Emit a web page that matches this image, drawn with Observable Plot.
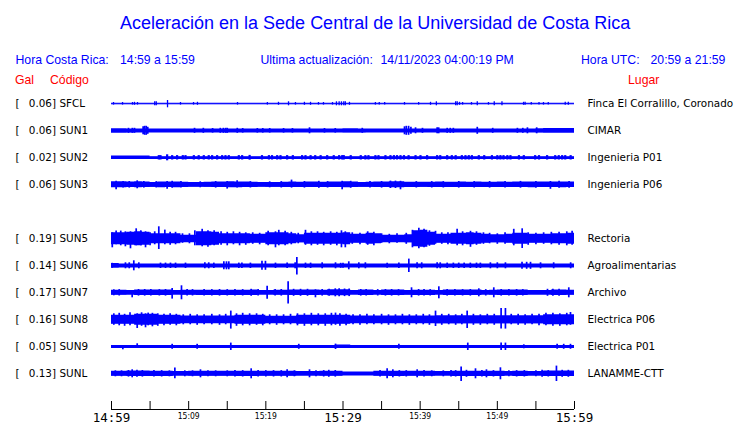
<!DOCTYPE html>
<html><head><meta charset="utf-8">
<script src="https://cdn.jsdelivr.net/npm/d3@7"></script>
<script src="https://cdn.jsdelivr.net/npm/@observablehq/plot@0.6"></script>
<style>
body{margin:0;background:#fff;width:740px;height:423px;overflow:hidden;}
#hdr{position:relative;width:740px;height:88px;font-family:"Liberation Sans",Arial,sans-serif;}
#hdr div{position:absolute;white-space:pre;line-height:1;}
.t{left:120px;top:13.7px;font-size:18px;color:#0000ff}
.h{top:53.7px;font-size:12.25px;color:#0000ff}
.r{top:74px;font-size:12.25px;color:#ff0000}
#chart svg{display:block;overflow:visible}
</style></head>
<body>
<div id="hdr">
  <div class="t">Aceleración en la Sede Central de la Universidad de Costa Rica</div>
  <div class="h" style="left:15.5px">Hora Costa Rica:</div>
  <div class="h" style="left:120px">14:59 a 15:59</div>
  <div class="h" style="left:260.5px">Ultima actualización:</div>
  <div class="h" style="left:380.5px">14/11/2023 04:00:19 PM</div>
  <div class="h" style="left:581px">Hora UTC:</div>
  <div class="h" style="left:650.5px">20:59 a 21:59</div>
  <div class="r" style="left:15px">Gal</div>
  <div class="r" style="left:50px">Código</div>
  <div class="r" style="left:628px">Lugar</div>
</div>
<div id="chart"></div>
<script>
// ---- data ----
const stations = ["SFCL","SUN1","SUN2","SUN3","SUN5","SUN6","SUN7","SUN8","SUN9","SUNL"];
const maxGal = ["0.06","0.06","0.02","0.06","0.19","0.14","0.17","0.16","0.05","0.13"];
const places = ["Finca El Corralillo, Coronado","CIMAR","Ingenieria P01","Ingenieria P06","Rectoria","Agroalimentarias","Archivo","Electrica P06","Electrica P01","LANAMME-CTT"];
const rowIndex = [0,1,2,3,5,6,7,8,9,10];
const coreAmp = [0.5,1.7,1.1,2.0,3.5,1.7,1.7,3.5,1.3,1.7];
const tickMinutes = [0,5,10,15,20,25,30,35,40,45,50,55,60];
const labelMinutes = [0,10,20,30,40,50,60];
const tickLabels = ["14:59","15:09","15:19","15:29","15:39","15:49","15:59"];
const bigLabel = [true,false,false,true,false,false,true];

// envelope (half amplitude) per minute, minutes 0..59 after 14:59
const envSFCL = Array(60).fill(0.5);
const envSUN1 = [2.1,2.1,1.9,1.7,1.7,1.7,1.7,1.7,1.7,1.7, 1.7,1.7,1.7,1.7,1.7,1.7,1.7,1.7,1.7,1.7, 1.7,1.7,1.7,1.7,1.7,1.7,1.7,1.7,1.7,1.8, 2.0,2.0,1.9,1.7,1.7,1.7,1.7,1.7,1.7,1.7, 1.7,1.7,1.7,1.7,1.7,1.7,1.7,1.7,1.7,1.7, 1.7,1.7,1.7,1.7,1.7,2.0,2.2,2.2,2.2,2.2];
const envSUN2 = [1.8,1.8,1.8,1.8,1.8,1.1,1.1,1.1,1.1,1.1, 1.1,1.1,1.1,1.1,1.1,1.1,1.1,1.1,1.1,1.1, 1.1,1.1,1.1,1.1,1.1,1.1,1.1,1.1,1.1,1.1, 1.1,1.1,1.1,1.1,1.1,1.1,1.1,1.1,1.1,1.1, 1.1,1.1,1.1,1.1,1.1,1.1,1.1,1.1,1.1,1.1, 1.1,1.1,1.1,1.1,1.1,1.1,1.1,1.1,1.1,1.1];
const envSUN3 = [3.0,3.0,2.8,3.0,2.8,2.4,2.9,2.8,2.9,2.6, 2.3,2.3,2.5,2.8,2.8,3.0,2.9,2.7,2.6,2.3, 2.4,2.4,2.6,2.7,2.6,2.7,2.8,2.6,2.7,2.8, 3.0,2.8,2.4,2.5,2.7,2.8,3.0,3.0,2.6,2.6, 2.5,2.6,2.7,2.6,2.6,2.7,2.6,2.7,2.6,2.6, 2.7,2.6,2.7,2.8,2.9,2.8,2.7,2.8,2.9,2.8];
const envSUN5 = [6,6,6.5,7,6.5,5,5,5,5,3.5, 3.5,7,7,6.5,5,5,5,5,4.5,4.5, 6,6,6,5,4,5.5,5.5,5.5,5.5,5.5, 6,4.5,4.5,5.5,5,3.5,3.5,3.5,4,8, 8.5,6.5,4.5,4.5,5.5,5.5,6,5.5,4.5,4, 4,4.5,5.5,5.5,4.5,4.5,4.5,5,5,5.5];
const envSUN6 = [2.2,1.7,1.7,1.7,1.7,1.7,1.7,1.7,1.7,1.7, 1.7,1.7,1.7,1.7,1.7,1.7,1.7,1.7,1.7,1.7, 1.7,1.7,1.7,1.7,1.7,1.7,1.7,1.7,1.7,1.7, 1.7,1.7,1.7,1.7,1.7,1.7,1.7,1.7,1.7,1.7, 1.7,1.7,1.7,1.7,1.7,1.7,1.7,1.7,1.7,1.7, 1.7,1.7,1.7,1.7,1.7,1.7,1.7,1.7,1.7,1.7];
const envSUN7 = [2.5,2.5,2.2,2.8,2.8,2.8,2.8,2.8,2.2,2.5, 2.5,2.6,2.6,2.6,2.6,2.6,2.6,2.6,2.8,2.2, 2.2,2.5,2.5,2.8,2.8,2.8,2.8,2.5,3.0,3.0, 3.0,2.2,2.7,2.7,2.2,2.7,2.7,2.7,2.4,2.6, 2.6,2.6,2.2,2.7,2.7,2.7,2.7,2.8,2.3,2.5, 2.7,2.7,2.7,2.7,2.2,2.2,2.2,2.8,2.8,2.5];
const envSUN8 = [4.5,4.5,4.5,5.5,5.5,5.5,4.5,4.5,4.5,3.8, 3.8,3.8,3.8,3.8,3.8,3.8,4.5,4.5,4.5,4.5, 3.5,3.5,3.5,3.5,4.5,4.5,4.5,4.5,4.5,4.5, 4.5,3.7,3.7,3.7,3.7,3.7,3.7,3.7,3.7,3.7, 3.7,3.7,4,4,4,4,4,4,4,4, 4,4,4,4,4,4,5,5,5,5];
const envSUN9 = [1.3,1.3,1.3,1.3,1.3,1.3,1.3,1.3,1.3,1.3, 1.3,1.3,1.3,1.3,1.3,1.3,1.3,1.3,1.3,1.3, 1.3,1.3,1.3,1.3,1.3,1.3,1.3,1.3,1.3,1.7, 1.7,1.3,1.3,1.3,1.3,1.3,1.3,1.3,1.3,1.3, 1.3,1.3,1.3,1.3,1.3,1.3,1.3,1.3,1.3,1.3, 1.3,1.3,1.3,1.3,1.3,1.3,1.3,1.3,1.3,1.3];
const envSUNL = [2.5,2.5,2.8,2.8,2.8,2.6,2.6,2.6,2.3,2.3, 2.5,2.5,2.5,2.5,2.5,2.5,2.6,2.6,2.6,2.5, 2.5,2.5,2.5,2.5,2.3,2.3,2.3,2.5,2.5,2.5, 1.8,1.8,1.8,1.8,2.5,2.5,2.6,2.6,2.5,2.5, 2.5,2.5,2.2,2.2,2.6,2.6,2.6,2.6,2.6,2.6, 2.6,2.2,2.6,2.6,2.3,2.3,2.8,2.8,2.8,2.8];

// spikes: [minute, up, down]
const spkSFCL = [[0.26,1.3],[1.43,1.3],[2.72,1.3],[2.98,1.5],[3.37,1.3],[5.6,2],[5.8,2],[7.26,3.3,4],[8.94,1.3],[10.63,1.3],[11.14,1.5],[16.33,1.3],[20.2,1.3],[21.64,1.5],[22.94,2],[23.84,1.3],[25.0,1.5],[25.79,1.5],[26.82,1.3],[27.47,1.3],[28.64,1.3],[29.15,2],[29.5,2],[29.8,2],[30.1,2],[30.3,2],[30.84,1.5],[34.2,1.3],[34.7,1.3],[35.4,1.3],[37.97,1.3],[39.8,1.3],[41.34,1.5],[42.1,2],[44.6,2],[44.8,2],[45.1,1.5],[45.5,1.3],[46.65,1.3],[47.4,2],[48.85,1.3],[49.6,2],[50.6,2],[53.4,1.5],[53.6,1.5],[54.4,1.3],[55.4,1.3],[55.98,1.3],[56.6,1.3],[58.8,1.5],[59.2,1.5]];
const spkSUN1 = [[2.2,2.5],[2.7,2.5],[2.98,2.5],[4.1,4],[4.3,4.5],[4.5,4.5],[4.7,3.5],[10.76,2.5],[11.9,2.5],[13.1,2.3],[14.1,2.5],[14.5,2.5],[14.8,2.5],[15.0,2.5],[16.3,2.5],[17.0,2.3],[18.9,2.3],[19.6,2.3],[20.5,2.3],[22.3,2.3],[23.45,2.3],[25.66,3],[27.6,2.3],[29.0,2.3],[32.5,2.5],[37.97,4],[38.2,4.5],[38.5,4.5],[38.8,3.5],[39.4,3],[40.3,2.5],[42.2,3],[42.4,3],[43.5,2.5],[43.9,2.5],[44.3,2.5],[47.4,3.5],[49.4,2.5],[52.6,2.5],[53.3,2.5],[53.9,3],[55.1,3]];
const spkSUN2 = [[6.13,2.2],[6.35,2.2],[7.21,3],[7.86,2.2],[8.5,2.2],[9.24,2.2],[9.59,2.2],[10.67,2.2],[11.3,2.2],[11.96,2.2],[12.6,2.2],[13.04,2.2],[13.69,2.2],[14.34,2.2],[14.77,2.2],[15.2,2.2],[16.5,2.2],[16.93,2.2],[17.9,2.4],[19.5,2.2],[20.4,2.2],[20.8,2.2],[21.47,2.2],[21.9,2.2],[22.76,2.2],[23.5,2.2],[24.7,2.2],[25.14,2.2],[25.8,2.2],[26.4,2.2],[27.1,2.2],[27.95,2.2],[28.8,2.2],[29.5,2.2],[29.9,2.2],[30.1,2.2],[31.0,2.2],[32.3,2.2],[32.9,2.2],[33.3,2.2],[34.2,2.2],[34.6,2.2],[35.5,2.2],[36.15,2.2],[36.6,2.2],[37.0,2.2],[37.45,2.2],[37.9,2.2],[38.5,2.2],[39.4,2.2],[40.04,2.2],[40.9,2.2],[42.2,2.2],[42.6,2.2],[43.5,2.2],[44.1,2.2],[44.6,2.2],[45.4,2.2],[45.87,2.2],[46.3,2.2],[46.7,2.2],[47.6,2.2],[48.3,2.2],[49.3,2.2],[50.0,2.2],[50.4,2.2],[50.8,2.2],[51.3,2.2],[51.7,2.2],[52.8,2.2],[53.43,2.2],[54.9,2.2],[55.4,2.2],[56.45,2.2],[57.5,2.2],[57.96,2.2],[58.4,2.2],[58.8,2.2],[59.5,2.2]];
const spkSUN3 = [[0.6,3.5,5],[1.5,3.3],[2.3,3.3],[3.33,4,4],[4.19,3.3],[5.8,3.2],[7.21,3.3,4.5],[7.86,3.5],[9.0,3.2],[11.5,3],[13.5,3.3],[14.99,3.3,4.3],[16.28,4,3.3],[18.0,3.2],[20.5,3],[22.0,3.2],[23.33,4.7,3.3],[25.0,3.3],[26.87,3.5],[28.0,3.2],[29.89,3.5,5],[31.0,3.5],[33.5,3.2],[35.0,3.3],[36.15,3.7],[36.8,3.7],[37.45,3.5,5],[39.5,3.2],[41.5,3.2],[43.0,3.2],[45.0,3.3],[47.0,3.2],[49.0,3.3],[51.0,3.2],[53.0,3.4],[55.0,3.4],[56.88,3.3,4.5],[58.0,3.5],[59.3,3.4]];
const spkSUN5 = [[0.1,6,9],[0.6,7.7,6],[1.2,7.7,7],[1.8,7,8],[2.46,7,10],[3.2,10,7],[3.8,8,7],[4.41,7,9],[5.0,6,7],[5.6,7,6],[6.13,12,10.7],[6.91,8.7,6],[7.6,6.5,6.5],[8.3,6.5,6],[9.2,5,4.5],[10.1,5,5],[10.8,8,7],[11.75,9.5,8],[12.5,8,8.5],[13.3,8,7],[14.2,7,6.5],[15.0,6.5,7],[15.8,7,6],[16.6,6.5,7],[17.4,6,6.5],[18.3,6,5.5],[19.2,5.5,6],[20.3,7.5,7],[21.25,7,9],[21.68,8.5,7],[22.5,7.5,7],[23.3,6.5,6],[24.2,5.5,5],[25.14,8.5,6.5],[25.9,7,7],[26.7,7,6.5],[27.5,6.5,7],[28.4,7,6.5],[29.2,6.5,7],[29.8,8,9],[30.3,7,9],[31.2,6,5.5],[32.2,5.5,6],[33.2,7,6.5],[34.0,6.5,7],[35.0,5,4.5],[36.0,4.5,5],[37.0,5,4.5],[38.2,5.5,5.5],[39.0,8.5,9],[39.83,10.5,10],[40.5,9.5,9],[41.2,8,7.5],[41.99,7.5,5.5],[42.8,6,5.5],[43.6,6,6],[44.79,9.5,7],[45.5,7,7],[46.52,7.5,8.5],[47.3,7,6.5],[48.2,6,5.5],[49.0,5.5,5],[50.0,5,5.5],[51.0,6,5.5],[52.13,9.5,7],[53.22,10,9.7],[54.0,6,6.5],[55.0,5.5,6],[56.0,6,5.5],[57.0,6.5,6],[58.0,6.5,6.5],[59.0,7,7],[59.69,7.5,6.5]];
const spkSUN6 = [[0.1,2.5],[1.81,3],[2.3,3],[2.89,5,5],[3.54,3],[6.35,2.7],[7.0,2.7],[7.64,2.7],[8.3,2.7],[9.59,2.7],[12.1,3],[12.6,3],[13.26,2.7],[14.56,4],[14.9,4],[15.2,4],[16.5,2.7],[16.9,2.7],[18.0,2.7],[19.5,4.5],[19.95,4.5],[21.25,2.7],[22.76,2.7],[23.8,3],[24.02,8.3,9.3],[25.14,2.7],[25.8,2.7],[27.3,3],[29.03,3],[29.7,2.5],[30.0,2.5],[30.75,4,4],[32.05,3],[32.9,3],[35.72,2.5],[37.24,2.7],[38.53,6.7,6.7],[39.6,3],[40.2,3],[42.2,3],[42.6,3],[43.5,2.7],[44.3,2.7],[45.0,2.7],[45.7,2.7],[46.5,2.7],[47.3,2.7],[47.8,2.7],[49.1,3],[50.0,3],[51.05,3],[53.2,3.5],[53.8,3.5],[54.3,3.5],[55.6,3],[57.3,3],[59.5,3]];
const spkSUN7 = [[0.3,3],[1.0,3.2],[2.68,2,5],[3.5,3.3],[4.3,3.3],[5.1,3.3],[6.2,3.2],[7.0,3.3],[7.86,4.3,6.3],[9.07,7,7],[9.8,3.2],[10.5,3.2],[12.0,3.3],[13.0,3.2],[14.0,3.3],[15.0,3.2],[16.0,3.3],[17.0,3.2],[18.1,3.5],[19.0,3.3],[20.17,6.5,6.5],[21.2,3.2],[22.0,3.3],[22.89,11,11.3],[23.6,3.5],[24.5,3.5],[25.4,3.5],[26.43,3,5],[27.3,3.3],[28.2,3.5],[29.0,4],[29.5,4],[30.2,3.8],[30.8,3.8],[32.3,3.3],[33.0,3.3],[34.5,3.2],[35.5,3.3],[36.3,3.3],[37.2,3.2],[38.88,5,5],[39.8,3.3],[40.5,3.2],[41.3,3.2],[42.42,6,6],[43.5,3.3],[44.5,3.3],[45.5,3.2],[46.5,3.3],[47.6,4,4],[48.5,3.2],[49.54,5,5],[50.5,3.3],[51.5,3.3],[52.5,3.3],[53.3,3.2],[56.5,3.5],[57.2,3.5],[58.0,3.5],[59.26,5,5]];
const spkSUN8 = [[0.3,6,5.5],[1.0,6.5,6],[1.7,5.5,6.5],[2.4,7,6],[3.33,6,8.7],[3.9,7,6.5],[4.41,6,8],[4.75,6.7,6],[5.3,6.5,7],[6.0,6,6.5],[6.8,5.5,6],[7.6,6,5.5],[8.4,5.5,6],[9.3,5,5],[10.2,5.5,5],[11.1,5,5.5],[12.0,5,5],[13.0,5.5,5],[14.0,5,5.5],[14.8,5.5,5],[15.46,8.7,9.3],[16.2,6,6.5],[17.0,6.5,6],[17.9,6,6],[18.8,6,5.5],[19.6,5.5,6],[20.5,5,5],[21.4,5,5.5],[22.3,5,5],[23.2,5.5,5],[24.1,6,6],[25.0,6,6.5],[25.9,6.5,6],[26.8,6,6],[27.7,6,6.5],[28.5,6.5,6],[29.03,6.7,5.5],[29.6,6,6.5],[30.4,5.5,6],[31.3,5,5],[32.2,5,5.5],[33.1,5.5,5],[34.0,5,5],[35.0,5.5,5],[35.9,5,5.5],[36.8,5,5],[37.7,5.5,5],[38.6,5,5.5],[39.5,5,5],[40.4,5.5,5],[41.2,5,5.5],[41.99,8.7,6.7],[42.8,5.5,5.5],[43.7,5.5,5],[44.6,5,5.5],[45.4,5.5,5],[46.09,8.7,8.7],[46.9,5.5,5.5],[47.8,5,5.5],[48.7,5.5,5],[49.6,5.5,5.5],[50.49,11.3,9.3],[51.05,11.3,9.3],[51.8,5.5,5],[52.7,5.5,5.5],[53.6,5,5.5],[54.5,5.5,5],[55.4,5.5,6],[56.3,6.5,6],[57.2,6.5,6.5],[58.1,6,6.5],[59.0,6.5,6],[59.48,7.3,5.5]];
const spkSUN9 = [[1.47,1.3,3],[3.33,3,1.3],[7.86,2.5],[11.1,2.5],[15.46,3.7,3.7],[24.27,2.5],[29.03,2.7],[37.24,2.5],[46.17,3.7],[50.49,3.7],[51.05,3.7],[53.43,2],[57.75,2.5],[58.6,2.5],[59.48,2.5]];
const spkSUNL = [[0.5,3],[1.3,3],[2.2,3.3],[2.68,4,4],[3.3,3.5],[4.0,3.3],[5.5,3.2],[6.5,3.2],[7.5,3],[8.21,5.7,5],[9.5,3],[10.5,3],[11.53,4,4],[12.5,3],[13.5,3],[15.0,3],[16.0,3.2],[17.0,3.2],[18.1,5,5],[19.0,3.2],[20.0,3.2],[21.0,3.2],[22.0,3.2],[22.76,4,4],[23.7,3],[25.66,4,4],[26.5,3],[27.5,3.2],[28.16,3.5],[29.0,3.3],[34.8,3.2],[35.72,5,5],[36.46,4,4],[37.3,3.2],[38.2,3.2],[39.61,4,4],[40.5,3.2],[41.5,3],[43.0,3],[44.0,3.2],[44.6,3.2],[45.31,6.7,7.7],[46.0,3.5],[47.17,5,5],[48.0,3.2],[48.59,4,4],[49.5,3.2],[50.4,6,6],[51.5,3],[52.5,3.2],[53.5,3.2],[55.0,3],[55.8,3.5],[56.6,3.2],[57.66,7.7,7.7],[58.4,3.5],[59.2,3.5]];

const envs = [envSFCL,envSUN1,envSUN2,envSUN3,envSUN5,envSUN6,envSUN7,envSUN8,envSUN9,envSUNL];
const spikes = [spkSFCL,spkSUN1,spkSUN2,spkSUN3,spkSUN5,spkSUN6,spkSUN7,spkSUN8,spkSUN9,spkSUNL];

// ---- layout ----
const W = 740, H = 335, ROW = 27, TOP = 15.3;
const py = px => (px - TOP) / ROW;   // svg pixel -> row units (layout helper)
const BLUE = "#0000ff";
const marks = [];
stations.forEach((s, i) => {
  const r = rowIndex[i];
  const env = envs[i];
  const pts = env.map((v, m) => ({m, v}));
  pts.push({m: 60, v: env[env.length - 1]});
  marks.push(Plot.ruleY([r], {x1: () => 0, x2: () => 60, stroke: BLUE, strokeWidth: 2 * coreAmp[i]}));
  marks.push(Plot.areaY(pts, {x: "m", y1: d => r - d.v / ROW, y2: d => r + d.v / ROW, curve: "step-after", fill: BLUE}));
  marks.push(Plot.ruleX(spikes[i], {x: d => d[0], y1: d => r - d[1] / ROW, y2: d => r + (d[2] ?? d[1]) / ROW, stroke: BLUE, strokeWidth: i === 0 ? 1.3 : (i === 2 ? 2.2 : 1.7)}));
});
const lab = stations.map((s, i) => ({s, g: maxGal[i], p: places[i], r: rowIndex[i]}));
const tf = "DejaVu Sans, sans-serif";
const fs = 10.4;
marks.push(Plot.text(lab, {frameAnchor: "left", y: "r", text: () => "[", dx: -96, textAnchor: "start", fontSize: fs, fontFamily: tf, fill: "black"}));
marks.push(Plot.text(lab, {frameAnchor: "left", y: "r", text: d => d.g + "]", dx: -55.5, textAnchor: "end", fontSize: fs, fontFamily: tf, fill: "black"}));
marks.push(Plot.text(lab, {frameAnchor: "left", y: "r", text: "s", dx: -52, textAnchor: "start", fontSize: fs, fontFamily: tf, fill: "black"}));
marks.push(Plot.text(lab, {frameAnchor: "right", y: "r", text: "p", dx: 13, textAnchor: "start", fontSize: fs, fontFamily: tf, fill: "black"}));
// time axis
const axisRow = py(321);
marks.push(Plot.ruleY([axisRow], {x1: () => 0, x2: () => 60, stroke: "black", strokeWidth: 1}));
marks.push(Plot.ruleX(tickMinutes, {x: d => d, y1: () => py(313), y2: () => axisRow, stroke: "black", strokeWidth: 1}));
const labs = labelMinutes.map((m, i) => ({m, t: tickLabels[i], big: bigLabel[i]}));
marks.push(Plot.text(labs.filter(d => d.big), {x: "m", y: () => py(333), text: "t", lineAnchor: "bottom", fontSize: 12.5, fontFamily: "DejaVu Sans Mono, monospace", fill: "black"}));
marks.push(Plot.text(labs.filter(d => !d.big), {x: "m", y: () => py(330), text: "t", lineAnchor: "bottom", fontSize: 8.5, fontFamily: "Liberation Sans Narrow, DejaVu Sans Condensed, sans-serif", fill: "black"}));

const chart = Plot.plot({
  width: W, height: H,
  marginLeft: 111, marginRight: 166, marginTop: 0, marginBottom: 0,
  x: {domain: [0, 60], axis: null},
  y: {domain: [py(0), py(H)], reverse: true, axis: null},
  style: {background: "white", overflow: "visible"},
  marks
});
document.getElementById("chart").appendChild(chart);
</script>
</body></html>
